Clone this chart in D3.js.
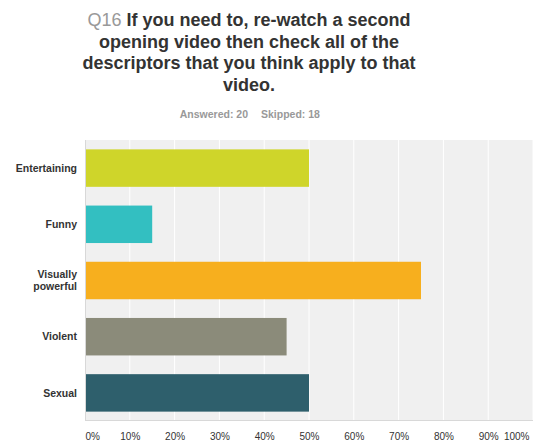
<!DOCTYPE html>
<html><head><meta charset="utf-8">
<script src="https://cdn.jsdelivr.net/npm/d3@7"></script>
<style>body{margin:0;background:#fff;}svg{display:block;font-family:"Liberation Sans",Arial,sans-serif;}</style>
</head><body>
<svg id="c" width="536" height="442"></svg>
<script>
const categories = ["Entertaining", "Funny", "Visually powerful", "Violent", "Sexual"];
const values = [50, 15, 75, 45, 50];
const colors = ["#cfd52a", "#33bfc1", "#f7af1e", "#8b8b7a", "#2e5f6c"];
const ticks = [0, 10, 20, 30, 40, 50, 60, 70, 80, 90, 100];
const titleLines = [["Q16 ", "If you need to, re-watch a second"], [null, "opening video then check all of the"], [null, "descriptors that you think apply to that"], [null, "video."]];

const svg = d3.select("#c");
const m = {l: 85, r: 533, t: 140, b: 421};
const x = d3.scaleLinear().domain([0, 100]).range([m.l, m.r]);
const y = d3.scaleBand().domain(categories).range([m.t, m.b]).paddingInner(1/3).paddingOuter(1/6);

// title
const tg = svg.append("g");
titleLines.forEach((ln, i) => {
  const t = tg.append("text").attr("x", 249).attr("y", 26 + i * 21.7).attr("text-anchor", "middle")
    .attr("font-size", 18).attr("font-weight", "bold").attr("fill", "#333");
  if (ln[0]) t.append("tspan").attr("fill", "#999").attr("font-weight", "normal").text(ln[0]);
  t.append("tspan").text(ln[1]);
});
svg.append("text").attr("x", 248).attr("y", 118).attr("text-anchor", "end").attr("font-size", 10.5)
  .attr("font-weight", "bold").attr("fill", "#999").text("Answered: 20");
svg.append("text").attr("x", 261).attr("y", 118).attr("text-anchor", "start").attr("font-size", 10.5)
  .attr("font-weight", "bold").attr("fill", "#999").text("Skipped: 18");

// plot bg
svg.append("rect").attr("x", m.l).attr("y", m.t).attr("width", m.r - m.l).attr("height", m.b - m.t).attr("fill", "#f0f0f0");
svg.append("g").selectAll("line").data(ticks.slice(1)).join("line")
  .attr("x1", d => x(d)).attr("x2", d => x(d)).attr("y1", m.t).attr("y2", m.b)
  .attr("stroke", "#fff").attr("stroke-width", 1);

// bars
svg.append("g").selectAll("rect").data(categories).join("rect")
  .attr("x", x(0)).attr("y", d => y(d)).attr("height", y.bandwidth())
  .attr("width", (d, i) => x(values[i]) - x(0)).attr("fill", (d, i) => colors[i]);

// axis lines
svg.append("line").attr("x1", m.l + 0.5).attr("x2", m.l + 0.5).attr("y1", m.t).attr("y2", m.b).attr("stroke", "#d8d8d8");
svg.append("line").attr("x1", m.l).attr("x2", m.r).attr("y1", m.b - 0.5).attr("y2", m.b - 0.5).attr("stroke", "#d8d8d8");

// x axis
const xa = svg.append("g").attr("transform", `translate(0,${m.b})`)
  .call(d3.axisBottom(x).tickValues(ticks).tickFormat(d => d + "%").tickSize(0).tickPadding(12));
xa.select(".domain").remove();
xa.selectAll("text").attr("font-size", 10).attr("fill", "#333").attr("font-family", "Liberation Sans, Arial, sans-serif")
  .attr("text-anchor", (d, i) => i === 0 ? "start" : (i === ticks.length - 1 ? "end" : "middle"))
  .attr("dx", (d, i) => i === ticks.length - 1 ? -4 : 0);

// y labels
const yl = svg.append("g").selectAll("text").data(categories).join("text")
  .attr("x", 77).attr("y", d => y(d) + y.bandwidth() / 2).attr("text-anchor", "end")
  .attr("font-size", 10.5).attr("font-weight", "bold").attr("fill", "#333");
yl.each(function(d) {
  const t = d3.select(this);
  const parts = d === "Visually powerful" ? ["Visually", "powerful"] : [d];
  parts.forEach((p, j) => {
    t.append("tspan").attr("x", 77).attr("dy", j === 0 ? ((-(parts.length - 1) * 11.5 / 2) + 3.7) : 11.5).text(p);
  });
});
</script>
</body></html>
